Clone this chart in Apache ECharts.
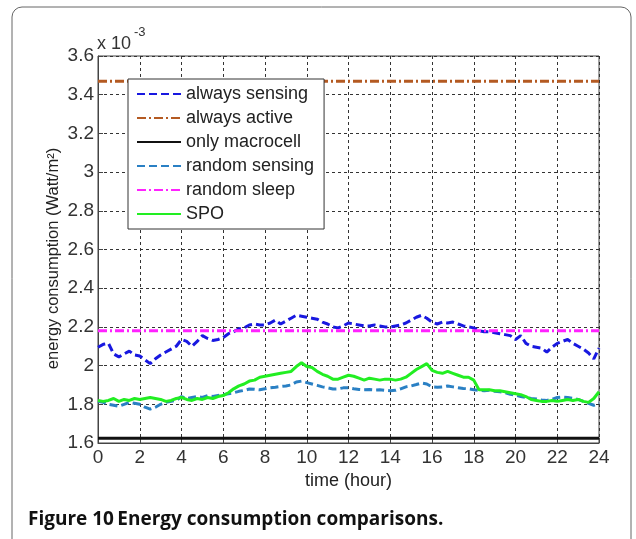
<!DOCTYPE html>
<html lang="en">
<head>
    <meta charset="UTF-8">
    <title>Energy consumption comparisons</title>
    <script src="https://cdn.jsdelivr.net/npm/echarts@6/dist/echarts.min.js"></script>
    <style>
        html, body { margin: 0; padding: 0; background: #fff; }
        #main { width: 636px; height: 539px; }
    </style>
</head>
<body>
<div id="main"></div>
<script>
    // hours, every quarter hour
    var hours = [];
    for (var i = 0; i <= 96; i++) hours.push(i / 4);

    var seriesNames = ['always sensing', 'always active', 'only macrocell', 'random sensing', 'random sleep', 'SPO'];

    // values in units of 1e-3 Watt/m^2
    var alwaysSensing = [
        2.095, 2.11, 2.115, 2.06, 2.045, 2.06, 2.075, 2.055, 2.05, 2.03, 2.01, 2.035,
        2.055, 2.07, 2.085, 2.10, 2.135, 2.125, 2.10, 2.125, 2.155, 2.14, 2.13, 2.135,
        2.145, 2.165, 2.175, 2.19, 2.195, 2.21, 2.215, 2.21, 2.21, 2.22, 2.235, 2.215,
        2.23, 2.245, 2.26, 2.255, 2.25, 2.245, 2.24, 2.225, 2.215, 2.20, 2.195, 2.205,
        2.22, 2.215, 2.21, 2.205, 2.205, 2.21, 2.205, 2.20, 2.20, 2.205, 2.21, 2.22,
        2.235, 2.25, 2.26, 2.245, 2.225, 2.215, 2.225, 2.22, 2.225, 2.215, 2.205, 2.20,
        2.195, 2.18, 2.175, 2.175, 2.17, 2.165, 2.16, 2.155, 2.135, 2.155, 2.115, 2.10,
        2.095, 2.09, 2.07, 2.095, 2.115, 2.125, 2.135, 2.115, 2.10, 2.085, 2.065, 2.035,
        2.09
    ];
    var randomSensing = [
        1.815, 1.81, 1.80, 1.795, 1.79, 1.80, 1.81, 1.805, 1.80, 1.785, 1.775, 1.785,
        1.80, 1.81, 1.815, 1.82, 1.84, 1.83, 1.835, 1.84, 1.835, 1.845, 1.84, 1.845,
        1.85, 1.855, 1.86, 1.867, 1.872, 1.879, 1.878, 1.875, 1.88, 1.885, 1.888, 1.892,
        1.895, 1.90, 1.915, 1.92, 1.912, 1.905, 1.898, 1.89, 1.885, 1.879, 1.88, 1.885,
        1.885, 1.88, 1.877, 1.875, 1.876, 1.874, 1.875, 1.872, 1.87, 1.872, 1.88, 1.89,
        1.895, 1.902, 1.91, 1.905, 1.89, 1.888, 1.89, 1.895, 1.89, 1.886, 1.882, 1.88,
        1.875, 1.872, 1.87, 1.872, 1.868, 1.865, 1.86, 1.852, 1.848, 1.84, 1.835, 1.83,
        1.828, 1.822, 1.82, 1.825, 1.835, 1.838, 1.835, 1.83, 1.825, 1.815, 1.805, 1.795,
        1.805
    ];
    var spo = [
        1.82, 1.815, 1.82, 1.83, 1.815, 1.825, 1.82, 1.83, 1.825, 1.83, 1.835, 1.83,
        1.825, 1.815, 1.82, 1.83, 1.835, 1.825, 1.82, 1.83, 1.825, 1.835, 1.83, 1.84,
        1.845, 1.86, 1.88, 1.895, 1.905, 1.92, 1.925, 1.94, 1.945, 1.95, 1.955, 1.96,
        1.965, 1.97, 1.995, 2.015, 1.995, 1.99, 1.97, 1.955, 1.945, 1.93, 1.93, 1.94,
        1.95, 1.945, 1.935, 1.925, 1.935, 1.93, 1.925, 1.93, 1.93, 1.925, 1.93, 1.94,
        1.96, 1.98, 1.995, 2.01, 1.975, 1.965, 1.96, 1.97, 1.96, 1.95, 1.94, 1.94,
        1.925, 1.875, 1.875, 1.875, 1.87, 1.87, 1.865, 1.86, 1.855, 1.85, 1.84, 1.825,
        1.82, 1.815, 1.815, 1.82, 1.815, 1.82, 1.825, 1.82, 1.825, 1.815, 1.81, 1.83,
        1.865
    ];
    // flat series, start and end of the day
    var flatHours = [0, 24];
    var alwaysActive = [3.47, 3.47];
    var onlyMacrocell = [1.625, 1.625];
    var randomSleep = [2.18, 2.18];

    function pairs(xs, ys) {
        return xs.map(function (x, k) { return [x, ys[k]]; });
    }

    var myChart = echarts.init(document.getElementById('main'));

    function mkLine(name, xs, ys, color, type, width) {
        return {
            name: name,
            type: 'line',
            data: pairs(xs, ys),
            symbol: 'none',
            lineStyle: { color: color, type: type, width: width },
            itemStyle: { color: color }
        };
    }

    var dash = [8, 4];
    var dashDot = [9, 3, 2, 3];

    var option = {
        animation: false,
        backgroundColor: '#fff',
        textStyle: { fontFamily: 'Liberation Sans' },
        grid: {
            left: 98, right: 37, top: 56, bottom: 96,
            show: true, borderColor: '#444', borderWidth: 1
        },
        legend: {
            data: seriesNames,
            orient: 'vertical',
            left: 128, top: 79,
            itemWidth: 44, itemHeight: 14, itemGap: 6,
            padding: [6, 10, 6, 8],
            backgroundColor: '#fff',
            borderColor: '#333', borderWidth: 1,
            itemStyle: { opacity: 0 },
            textStyle: { fontSize: 18, lineHeight: 18, color: '#222', fontFamily: 'Liberation Sans' }
        },
        xAxis: {
            type: 'value',
            min: 0, max: 24, interval: 2,
            name: 'time (hour)',
            nameLocation: 'middle', nameGap: 25,
            nameTextStyle: { fontSize: 18, color: '#222' },
            axisLine: { lineStyle: { color: '#444' } },
            axisTick: { inside: true, length: 5, lineStyle: { color: '#444' } },
            axisLabel: { fontSize: 19, color: '#333', margin: 5 },
            splitLine: { show: true, lineStyle: { color: '#333', type: [3, 3] } }
        },
        yAxis: {
            type: 'value',
            min: 1.6, max: 3.6, interval: 0.2,
            name: 'energy consumption (Watt/m²)',
            nameLocation: 'middle', nameGap: 36,
            nameMoveOverlap: false,
            nameTextStyle: { fontSize: 16.5, color: '#222', padding: [0, 18, 0, 0] },
            axisLine: { show: true, lineStyle: { color: '#444' } },
            axisTick: { show: true, inside: true, length: 5, lineStyle: { color: '#444' } },
            axisLabel: { fontSize: 19, color: '#333', margin: 4 },
            splitLine: { show: true, lineStyle: { color: '#333', type: [3, 3] } }
        },
        graphic: [
            {
                type: 'rect', z: -10, silent: true,
                shape: { x: 12, y: 7, width: 619, height: 580, r: 10 },
                style: { fill: 'none', stroke: '#666', lineWidth: 1 }
            },
            {
                type: 'text', left: 97, top: 35,
                style: { text: 'x 10', fontSize: 18, fill: '#333', fontFamily: 'Liberation Sans' }
            },
            {
                type: 'text', left: 134, top: 26,
                style: { text: '-3', fontSize: 13, fill: '#333', fontFamily: 'Liberation Sans' }
            },
            {
                type: 'text', left: 28, top: 510,
                style: {
                    text: '{a|Figure 10} {b|Energy consumption comparisons.}',
                    rich: {
                        a: { fontSize: 19, fontWeight: 'bold', fill: '#111', fontFamily: 'Open Sans' },
                        b: { fontSize: 19, fontWeight: 'bold', fill: '#111', fontFamily: 'Open Sans' }
                    }
                }
            }
        ],
        series: [
            mkLine('always sensing', hours, alwaysSensing, '#1818e0', dash, 3),
            mkLine('always active', flatHours, alwaysActive, '#b45a22', dashDot, 3),
            mkLine('only macrocell', flatHours, onlyMacrocell, '#111111', 'solid', 3),
            mkLine('random sensing', hours, randomSensing, '#2a80c4', dash, 3),
            mkLine('random sleep', flatHours, randomSleep, '#ff22ff', dashDot, 3),
            mkLine('SPO', hours, spo, '#22ee22', 'solid', 3)
        ]
    };

    myChart.setOption(option);
</script>
</body>
</html>
